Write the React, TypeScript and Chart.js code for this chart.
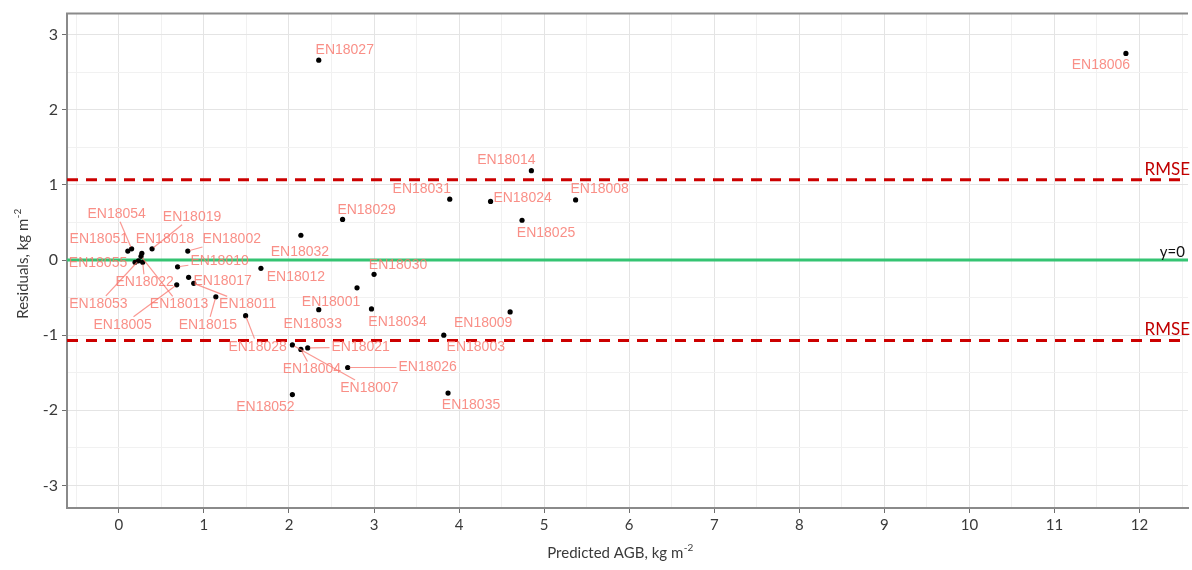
import React, { useEffect, useRef } from 'react';
import { Chart, registerables } from 'chart.js';

Chart.register(...registerables);

// Sample identifiers, predicted above-ground biomass and residuals (kg m-2)
const sampleIds = [
  'EN18027', 'EN18006', 'EN18014', 'EN18031', 'EN18024', 'EN18008', 'EN18025', 'EN18029',
  'EN18032', 'EN18030', 'EN18012', 'EN18001', 'EN18033', 'EN18034', 'EN18009', 'EN18003',
  'EN18015', 'EN18028', 'EN18011', 'EN18017', 'EN18010', 'EN18005', 'EN18013', 'EN18053',
  'EN18055', 'EN18022', 'EN18051', 'EN18054', 'EN18018', 'EN18019', 'EN18002', 'EN18021',
  'EN18004', 'EN18026', 'EN18007', 'EN18052', 'EN18035',
];

const predictedAGB = [
  2.35, 11.84, 4.85, 3.89, 4.37, 5.37, 4.74, 2.63,
  2.14, 3.0, 1.67, 2.8, 2.35, 2.97, 4.6, 3.82,
  1.14, 1.49, 0.88, 0.82, 0.69, 0.68, 0.26, 0.23,
  0.19, 0.28, 0.105, 0.15, 0.27, 0.39, 0.81, 2.22,
  2.14, 2.69, 2.04, 2.04, 3.87,
];

const residuals = [
  2.66, 2.75, 1.19, 0.81, 0.78, 0.8, 0.53, 0.54,
  0.33, -0.19, -0.11, -0.37, -0.66, -0.65, -0.69, -1.0,
  -0.49, -0.74, -0.31, -0.23, -0.09, -0.33, 0.05, -0.01,
  -0.03, -0.03, 0.12, 0.15, 0.09, 0.15, 0.12, -1.17,
  -1.19, -1.43, -1.13, -1.79, -1.77,
];

const rmse = 1.07;
const zeroLine = 0;

const xTickValues = [0, 1, 2, 3, 4, 5, 6, 7, 8, 9, 10, 11, 12];
const xTickLabels = ['0', '1', '2', '3', '4', '5', '6', '7', '8', '9', '10', '11', '12'];
const yTickValues = [-3, -2, -1, 0, 1, 2, 3];
const yTickLabels = ['-3', '-2', '-1', '0', '1', '2', '3'];

// Pixel offset of each repelled label's centre from its point
const labelNudge: [number, number][] = [
  [26, -10], [-25, 12], [-25, -10], [-28, -10], [32, -3], [24, -11], [24, 13], [24, -9],
  [-1, 17], [24, -9], [35, 9], [-26, 14], [-6, 15], [26, 13], [-27, 11], [32, 12],
  [-8, 28], [12, 31], [54, 21], [34, 4], [42, -6], [-54, 40], [38, 48], [-40, 43],
  [-37, 1], [2, 20], [-29, -12], [-15, -35], [23, -14], [40, -32], [44, -12], [53, -1],
  [11, 20], [80, 0], [77, 43], [-27, 13], [23, 12],
];

const X_MIN = -0.61;
const X_MAX = 12.57;
const Y_MIN = -3.3;
const Y_MAX = 3.28;

const LABEL_COLOR = 'rgba(248, 118, 109, 0.82)';
const SEGMENT_COLOR = 'rgba(248, 118, 109, 0.75)';
const AXIS_TEXT = '#3a3a3a';

const halfSteps = (lo: number, hi: number) => {
  const out: { value: number }[] = [];
  for (let v = Math.ceil(lo * 2) / 2; v <= hi + 1e-9; v += 0.5) out.push({ value: v });
  return out;
};

const isMajor = (v: number) => Math.abs(v - Math.round(v)) < 1e-6;

// Text labels with leader segments, reference-line captions, panel top edge and axis titles
const annotationPlugin = {
  id: 'residualAnnotations',
  afterDatasetsDraw(chart: any) {
    const { ctx, chartArea, scales } = chart;
    const xs = scales.x;
    const ys = scales.y;
    ctx.save();

    // panel top edge
    ctx.strokeStyle = '#8a8a8a';
    ctx.lineWidth = 2;
    ctx.beginPath();
    ctx.moveTo(chartArea.left - 1, chartArea.top);
    ctx.lineTo(chartArea.right, chartArea.top);
    ctx.stroke();

    // repelled sample labels
    ctx.font = '14px "Liberation Sans", Arial, sans-serif';
    ctx.textAlign = 'center';
    ctx.textBaseline = 'middle';
    sampleIds.forEach((id, i) => {
      const px = xs.getPixelForValue(predictedAGB[i]);
      const py = ys.getPixelForValue(residuals[i]);
      const cx = px + labelNudge[i][0];
      const cy = py + labelNudge[i][1];
      const hw = ctx.measureText(id).width / 2 + 2;
      const hh = 8;
      const dx = px - cx;
      const dy = py - cy;
      const gap = Math.hypot(Math.max(Math.abs(dx) - hw, 0), Math.max(Math.abs(dy) - hh, 0));
      if (gap > 10) {
        const s = Math.min(
          dx !== 0 ? hw / Math.abs(dx) : Infinity,
          dy !== 0 ? hh / Math.abs(dy) : Infinity,
        );
        const ex = cx + dx * s;
        const ey = cy + dy * s;
        const len = Math.hypot(px - ex, py - ey);
        const sx = px - ((px - ex) / len) * 2;
        const sy = py - ((py - ey) / len) * 2;
        ctx.strokeStyle = SEGMENT_COLOR;
        ctx.lineWidth = 1.2;
        ctx.beginPath();
        ctx.moveTo(sx, sy);
        ctx.lineTo(ex, ey);
        ctx.stroke();
      }
      ctx.fillStyle = LABEL_COLOR;
      ctx.fillText(id, cx, cy);
    });

    // reference line captions
    ctx.textAlign = 'right';
    ctx.textBaseline = 'alphabetic';
    ctx.fillStyle = '#c00000';
    ctx.font = '17px Lato, "Liberation Sans", sans-serif';
    ctx.fillText('RMSE', 1190, ys.getPixelForValue(rmse) - 5);
    ctx.fillText('RMSE', 1190, ys.getPixelForValue(-rmse) - 5);
    ctx.fillStyle = '#111';
    ctx.font = '15px Lato, "Liberation Sans", sans-serif';
    ctx.fillText('y=0', 1185, ys.getPixelForValue(zeroLine) - 3);

    // axis titles with superscripts
    const drawTitle = (main: string, sup: string) => {
      ctx.font = '15px Lato, "Liberation Sans", sans-serif';
      const w1 = ctx.measureText(main).width;
      ctx.font = '10px Lato, "Liberation Sans", sans-serif';
      const w2 = ctx.measureText(sup).width;
      const start = -(w1 + w2) / 2;
      ctx.textAlign = 'left';
      ctx.textBaseline = 'alphabetic';
      ctx.fillStyle = AXIS_TEXT;
      ctx.font = '15px Lato, "Liberation Sans", sans-serif';
      ctx.fillText(main, start, 5);
      ctx.font = '10px Lato, "Liberation Sans", sans-serif';
      ctx.fillText(sup, start + w1 + 0.5, -2);
    };

    ctx.save();
    ctx.translate(620, 553);
    drawTitle('Predicted AGB, kg m', '-2');
    ctx.restore();

    ctx.save();
    ctx.translate(23, 264);
    ctx.rotate(-Math.PI / 2);
    drawTitle('Residuals, kg m', '-2');
    ctx.restore();

    ctx.restore();
  },
};

export default function App() {
  const canvasRef = useRef<HTMLCanvasElement | null>(null);

  useEffect(() => {
    const canvas = canvasRef.current;
    if (!canvas) return;

    const gridColor = (c: any) => (isMajor(c.tick?.value ?? 0) ? '#e4e4e4' : '#f1f1f1');
    const tickColor = (c: any) => (isMajor(c.tick?.value ?? 0) ? '#6e6e6e' : 'rgba(0,0,0,0)');

    const chart = new Chart(canvas, {
      type: 'scatter',
      data: {
        datasets: [
          {
            type: 'scatter',
            label: 'Residuals',
            data: predictedAGB.map((x, i) => ({ x, y: residuals[i] })),
            backgroundColor: '#000',
            borderColor: '#000',
            pointRadius: 2.6,
            pointBorderWidth: 0,
            order: 0,
          },
          {
            type: 'line',
            label: 'y=0',
            data: [{ x: X_MIN, y: zeroLine }, { x: X_MAX, y: zeroLine }],
            borderColor: '#34c472',
            borderWidth: 3,
            pointRadius: 0,
            order: 1,
          },
          {
            type: 'line',
            label: 'RMSE',
            data: [{ x: X_MIN, y: rmse }, { x: X_MAX, y: rmse }],
            borderColor: '#cc0000',
            borderWidth: 3,
            borderDash: [11, 8],
            pointRadius: 0,
            order: 2,
          },
          {
            type: 'line',
            label: '-RMSE',
            data: [{ x: X_MIN, y: -rmse }, { x: X_MAX, y: -rmse }],
            borderColor: '#cc0000',
            borderWidth: 3,
            borderDash: [11, 8],
            pointRadius: 0,
            order: 3,
          },
        ],
      },
      options: {
        responsive: false,
        maintainAspectRatio: false,
        animation: false,
        devicePixelRatio: 1,
        layout: { padding: { top: 12, right: 0, left: 0, bottom: 0 } },
        plugins: {
          legend: { display: false },
          tooltip: { enabled: false },
          title: { display: false },
        },
        scales: {
          x: {
            type: 'linear',
            min: X_MIN,
            max: X_MAX,
            afterBuildTicks: (scale: any) => {
              scale.ticks = halfSteps(X_MIN, X_MAX);
            },
            afterFit: (scale: any) => {
              scale.height = 62;
            },
            grid: {
              color: gridColor,
              tickColor,
              tickLength: 5,
              lineWidth: 1,
            },
            border: { display: true, color: '#8a8a8a', width: 2 },
            ticks: {
              autoSkip: false,
              maxRotation: 0,
              padding: 3,
              color: AXIS_TEXT,
              font: { family: 'Lato, "Liberation Sans", sans-serif', size: 15 },
              callback: (v: any) => {
                const idx = xTickValues.indexOf(Number(v));
                return idx >= 0 ? xTickLabels[idx] : '';
              },
            },
          },
          y: {
            type: 'linear',
            min: Y_MIN,
            max: Y_MAX,
            afterBuildTicks: (scale: any) => {
              scale.ticks = halfSteps(Y_MIN, Y_MAX);
            },
            afterFit: (scale: any) => {
              scale.width = 67;
            },
            grid: {
              color: gridColor,
              tickColor,
              tickLength: 5,
              lineWidth: 1,
            },
            border: { display: true, color: '#8a8a8a', width: 2 },
            ticks: {
              autoSkip: false,
              padding: 4,
              color: AXIS_TEXT,
              font: { family: 'Lato, "Liberation Sans", sans-serif', size: 16 },
              callback: (v: any) => {
                const idx = yTickValues.indexOf(Number(v));
                return idx >= 0 ? yTickLabels[idx] : '';
              },
            },
          },
        },
      },
      plugins: [annotationPlugin],
    } as any);

    return () => chart.destroy();
  }, []);

  return (
    <div style={{ position: 'fixed', left: 0, top: 0, width: 1192, height: 570, background: '#fff' }}>
      <canvas ref={canvasRef} width={1192} height={570} style={{ width: 1192, height: 570, display: 'block' }} />
    </div>
  );
}
